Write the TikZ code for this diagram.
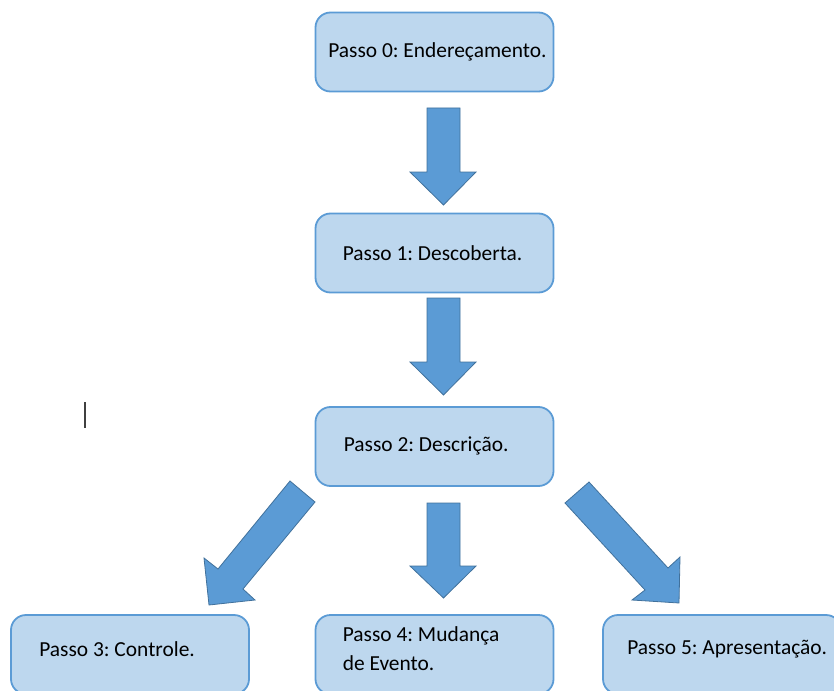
\documentclass[tikz,border=0pt]{standalone}
\usepackage{fontspec}
\setmainfont{Carlito}
\frenchspacing
\definecolor{boxfill}{HTML}{BDD7EE}
\definecolor{boxline}{HTML}{5B9BD5}
\definecolor{arrowfill}{HTML}{5B9BD5}
\definecolor{arrowline}{HTML}{41719C}
\begin{document}
\begin{tikzpicture}[x=1bp,y=-1bp,
  stepbox/.style={draw=boxline, fill=boxfill, line width=1.8bp, rounded corners=15bp,
    minimum width=238bp, minimum height=79bp, inner sep=0pt},
  steptext/.style={anchor=west, inner sep=0pt, font=\fontsize{21.5}{29}\selectfont, align=left},
  blockarrow/.style={draw=arrowline, fill=arrowfill, line width=0.8bp, line join=miter}]
\useasboundingbox (0,0) rectangle (834,691);
\clip (0,0) rectangle (834,691);

% step boxes
\node[stepbox] (b0) at (434.5,52) {};
\node[stepbox] (b1) at (434.5,253) {};
\node[stepbox] (b2) at (434.5,446.5) {};
\node[stepbox] (b3) at (130,654.5) {};
\node[stepbox] (b4) at (434.5,654.5) {};
\node[stepbox] (b5) at (722,654.5) {};

% step labels
\node[steptext] (t0) at ([xshift=13.5bp]b0.west) {Passo 0: Endereçamento.};
\node[steptext] (t1) at ([xshift=28bp]b1.west) {Passo 1: Descoberta.};
\node[steptext] (t2) at ([xshift=29bp,yshift=1bp]b2.west) {Passo 2: Descrição.};
\node[steptext] (t3) at ([xshift=29bp,yshift=5.5bp]b3.west) {Passo 3: Controle.};
\node[steptext] (t4) at ([xshift=28bp,yshift=6bp]b4.west) {Passo 4: Mudança\\de Evento.};
\node[steptext] (t5) at ([xshift=25bp,yshift=5.5bp]b5.west) {Passo 5: Apresentação.};

% block arrows between the steps
\draw[blockarrow] (427,108) -- (460,108) -- (460,172) -- (476,172) -- (443.5,205)
  -- (410,172) -- (427,172) -- cycle;
\draw[blockarrow] (427,298) -- (460,298) -- (460,362) -- (476,362) -- (443.5,395)
  -- (410,362) -- (427,362) -- cycle;
\draw[blockarrow] (427,503) -- (460,503) -- (460,566) -- (476,566) -- (443.5,598)
  -- (410,566) -- (427,566) -- cycle;
\draw[blockarrow] (290,481) -- (315,502) -- (243,589) -- (255,600) -- (209,605)
  -- (204,558) -- (218,569) -- cycle;
\draw[blockarrow] (589,482) -- (565,503) -- (645,590) -- (632,600) -- (679,603)
  -- (680,557) -- (668,568) -- cycle;

% text cursor
\draw[line width=1.3bp, black!75] (85,402) -- (85,428);
\end{tikzpicture}
\end{document}
